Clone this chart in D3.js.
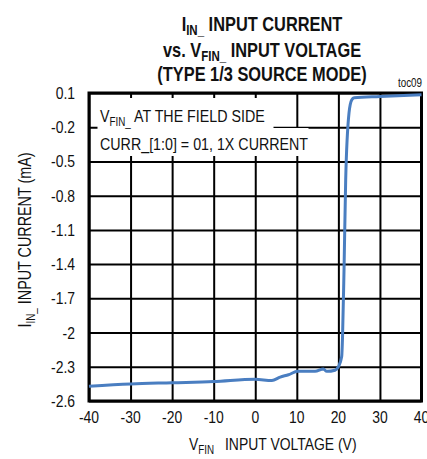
<!DOCTYPE html>
<html>
<head>
<meta charset="utf-8">
<script src="https://cdn.jsdelivr.net/npm/d3@7"></script>
<style>
  body { margin: 0; background: #fff; }
  svg { display: block; font-family: "Liberation Sans", Arial, sans-serif; }
</style>
</head>
<body>
<div id="chart"></div>
<script>
// data
const xTicks = [-40, -30, -20, -10, 0, 10, 20, 30, 40];
const yTicks = [0.1, -0.2, -0.5, -0.8, -1.1, -1.4, -1.7, -2, -2.3, -2.6];
const yTickLabels = ["0.1", "-0.2", "-0.5", "-0.8", "-1.1", "-1.4", "-1.7", "-2", "-2.3", "-2.6"];

const volt = [-40, -30, -20, -10, 0, 4, 6, 8, 10.2, 14.4, 16.4, 17.2, 19.2, 20.0, 20.8, 21.0, 21.36, 21.76, 22.56, 23.2, 23.8, 30, 40];
const curr = [-2.47, -2.45, -2.44, -2.43, -2.41, -2.42, -2.39, -2.37, -2.34, -2.34, -2.32, -2.34, -2.33, -2.30, -2.21, -2.04, -1.45, -0.66, -0.075, 0.039, 0.059, 0.07, 0.085];

const width = 427;
const height = 459;
const margin = { top: 93, right: 5.5, bottom: 58, left: 89 };
const narrow = 0.82; // condensed look of the original type

const svg = d3.select("#chart").append("svg")
  .attr("width", width)
  .attr("height", height);

// text placed at (x, y) and squeezed horizontally
const at = (x, y, rot) => `translate(${x}, ${y})${rot ? ` rotate(${rot})` : ""} scale(${narrow}, 1)`;

// scales
const xScale = d3.scaleLinear().domain([-40, 40]).range([margin.left, width - margin.right]);
const yScale = d3.scaleLinear().domain([-2.6, 0.1]).range([height - margin.bottom, margin.top]);

// grid
svg.append("g")
  .attr("class", "x-grid")
  .attr("transform", `translate(0, ${height - margin.bottom})`)
  .call(d3.axisBottom(xScale).tickValues(xTicks).tickSize(-(height - margin.top - margin.bottom)).tickFormat(""))
  .call((g) => g.select(".domain").remove())
  .call((g) => g.selectAll("line").attr("stroke", "#000").attr("stroke-width", 2));

svg.append("g")
  .attr("class", "y-grid")
  .attr("transform", `translate(${margin.left}, 0)`)
  .call(d3.axisLeft(yScale).tickValues(yTicks).tickSize(-(width - margin.left - margin.right)).tickFormat(""))
  .call((g) => g.select(".domain").remove())
  .call((g) => g.selectAll("line").attr("stroke", "#000").attr("stroke-width", 2));

// legend box (white background hides the grid behind the text)
svg.append("rect").attr("x", 97.5).attr("y", 98).attr("width", 176).attr("height", 30).attr("fill", "#fff");
svg.append("rect").attr("x", 97.5).attr("y", 128).attr("width", 211).attr("height", 28).attr("fill", "#fff");

const leg1 = svg.append("text").attr("transform", at(100, 122)).attr("font-size", 17.4).attr("fill", "#111");
leg1.append("tspan").text("V");
leg1.append("tspan").attr("font-size", 12).attr("dy", 4).text("FIN_");
leg1.append("tspan").attr("dy", -4).text(" AT THE FIELD SIDE");

svg.append("text").attr("transform", at(100, 149.5)).attr("font-size", 17.4).attr("fill", "#111")
  .text("CURR_[1:0] = 01, 1X CURRENT");

// frame
svg.append("rect")
  .attr("x", margin.left)
  .attr("y", margin.top)
  .attr("width", width - margin.left - margin.right)
  .attr("height", height - margin.top - margin.bottom)
  .attr("fill", "none")
  .attr("stroke", "#000")
  .attr("stroke-width", 3);

// curve
const data = volt.map((v, i) => ({ v: v, c: curr[i] }));
const line = d3.line()
  .curve(d3.curveMonotoneX)
  .x((d) => xScale(d.v))
  .y((d) => yScale(d.c));

svg.append("path")
  .datum(data)
  .attr("d", line)
  .attr("fill", "none")
  .attr("stroke", "rgb(74, 126, 193)")
  .attr("stroke-width", 3)
  .attr("stroke-linejoin", "round");

// tick labels
svg.append("g").selectAll("text")
  .data(xTicks)
  .join("text")
  .attr("transform", (d) => at(xScale(d), 423))
  .attr("text-anchor", "middle")
  .attr("font-size", 17)
  .attr("fill", "#111")
  .text((d) => d);

svg.append("g").selectAll("text")
  .data(yTicks)
  .join("text")
  .attr("transform", (d) => at(75, yScale(d)))
  .attr("dy", "0.35em")
  .attr("text-anchor", "end")
  .attr("font-size", 17)
  .attr("fill", "#111")
  .text((d, i) => yTickLabels[i]);

// axis titles
const xTitle = svg.append("text").attr("transform", at(189, 450)).attr("font-size", 17).attr("fill", "#111");
xTitle.append("tspan").text("V");
xTitle.append("tspan").attr("font-size", 12).attr("dy", 4).text("FIN");
xTitle.append("tspan").attr("dy", -4).attr("x", (225 - 189) / narrow).text("INPUT VOLTAGE (V)");

const yTitle = svg.append("text")
  .attr("transform", at(31, 240, -90))
  .attr("text-anchor", "middle")
  .attr("font-size", 17.5)
  .attr("fill", "#111");
yTitle.append("tspan").text("I");
yTitle.append("tspan").attr("font-size", 12).attr("dy", 4).text("IN_");
yTitle.append("tspan").attr("dy", -4).text(" INPUT CURRENT (mA)");

// chart title
const title = svg.append("g").attr("font-weight", "bold").attr("font-size", 20).attr("fill", "#111");
const t1 = title.append("text").attr("transform", at(262, 31)).attr("text-anchor", "middle");
t1.append("tspan").text("I");
t1.append("tspan").attr("font-size", 14).attr("dy", 4).text("IN_");
t1.append("tspan").attr("dy", -4).text(" INPUT CURRENT");

const t2 = title.append("text").attr("transform", at(262, 57)).attr("text-anchor", "middle");
t2.append("tspan").text("vs. V");
t2.append("tspan").attr("font-size", 14).attr("dy", 4).text("FIN_");
t2.append("tspan").attr("dy", -4).text(" INPUT VOLTAGE");

title.append("text").attr("transform", at(262, 81)).attr("text-anchor", "middle")
  .text("(TYPE 1/3 SOURCE MODE)");

svg.append("text")
  .attr("transform", at(422, 87))
  .attr("text-anchor", "end")
  .attr("font-size", 12)
  .attr("fill", "#111")
  .text("toc09");
</script>
</body>
</html>
